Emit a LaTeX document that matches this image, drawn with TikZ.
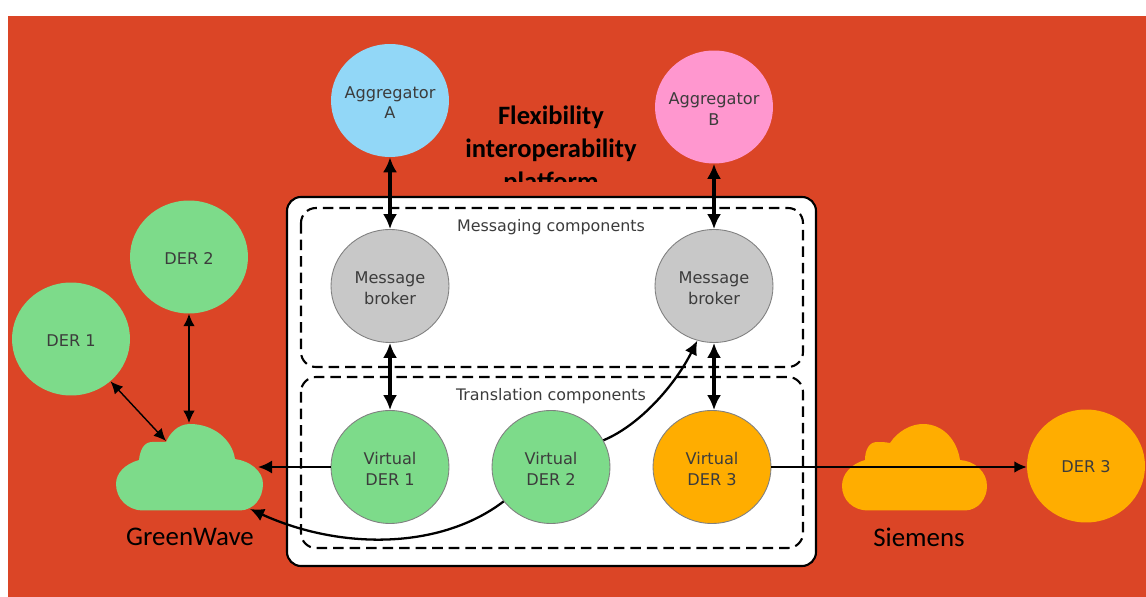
\documentclass[tikz,border=0pt]{standalone}
\usepackage{fontspec}
\setmainfont{DejaVu Sans}
\newfontfamily\calfont{Carlito}
\usetikzlibrary{shapes.geometric, arrows.meta}
\definecolor{bgred}{HTML}{DB4526}
\definecolor{dergreen}{HTML}{7DDB8A}
\definecolor{derorange}{HTML}{FFAD00}
\definecolor{aggblue}{HTML}{92D7F7}
\definecolor{aggpink}{HTML}{FF97CF}
\definecolor{brokergray}{HTML}{C8C8C8}
\definecolor{labelgray}{HTML}{3C3C3C}
\newcommand{\lowtext}{\rule{0pt}{9pt}}
\tikzset{
  blob/.style={ellipse, minimum width=2.36cm, minimum height=2.26cm, inner sep=-4pt, align=center,
    text=labelgray, font=\fontsize{9.2}{11.8}\selectfont},
  inner/.style={blob, draw=gray, line width=.5pt},
  thickarrow/.style={<->, >={Latex[length=8.5pt,width=8pt]}, line width=1.9pt},
  thinarrow/.style={<->, >={Latex[length=7pt,width=6.5pt]}, line width=.8pt},
  midarrow/.style={->, >={Latex[length=8pt,width=7.5pt]}, line width=1.3pt},
  capt/.style={font=\calfont\fontsize{15.3}{18}\selectfont, text=black},
  zone/.style={line width=1.2pt, dash pattern=on 6pt off 3.4pt, rounded corners=.3cm},
  zonelabel/.style={text=labelgray, font=\fontsize{9.05}{11}\selectfont}
}
\begin{document}
\begin{tikzpicture}[>=latex, x=.02cm, y=-.02cm]
\useasboundingbox (0,0) rectangle (1146,597);
\fill[white](0,0) rectangle (1146,597);
\fill[bgred](8,16) rectangle (1146,597);
\begin{scope}
\clip (440,90) rectangle (660,182);
\node(title) at (551,150)[align=center, text=black, font=\calfont\bfseries\fontsize{15.1}{18.7}\selectfont]{Flexibility\\interoperability\\platform};
\end{scope}
\draw[fill=white, line width=1.2pt, rounded corners=.28cm](287,197) rectangle (816,566);
\draw[zone](301,208) rectangle (803,367);
\draw[zone](301,377) rectangle (803,548);
\node(msglabel) at (551,227)[zonelabel]{Messaging components};
\node(translabel) at (551,396)[zonelabel]{Translation components};
\node(aggA) at (390,100.5)[blob, fill=aggblue]{\lowtext Aggregator\\A};
\node(aggB) at (714,107)[blob, fill=aggpink]{\lowtext Aggregator\\B};
\node(der1) at (71,339)[blob, fill=dergreen]{\rule{0pt}{8pt}DER 1};
\node(der2) at (189,257)[blob, fill=dergreen]{\rule{0pt}{8pt}DER 2};
\node(der3) at (1086,466)[blob, fill=derorange]{\rule{0pt}{8pt}DER 3};
\node(msgA) at (390,286)[inner, fill=brokergray]{\lowtext Message\\broker};
\node(msgB) at (714,286)[inner, fill=brokergray]{\lowtext Message\\broker};
\node(virt1) at (390,467)[inner, fill=dergreen]{\lowtext Virtual\\DER 1};
\node(virt2) at (551,467)[inner, fill=dergreen]{\lowtext Virtual\\DER 2};
\node(virt3) at (712,467)[inner, fill=derorange]{\lowtext Virtual\\DER 3};
\fill[dergreen](142,510.5)--(240,510.5) .. controls (254,510) and (263,498) .. (263,484) .. controls (263,471) and (250,461) .. (235,459)
  .. controls (232,439) and (213,424) .. (190,424) .. controls (178,424) and (170,433) .. (166,442)
  .. controls (160,442) and (156,442) .. (152,442) .. controls (144,442) and (140,450) .. (139,460)
  .. controls (125,464) and (116,473) .. (116,484) .. controls (116,499) and (128,510) .. (142,510.5)--cycle;
\fill[derorange](867,510.5)--(965,510.5) .. controls (979,510) and (987,498) .. (987,486) .. controls (987,472) and (975,461) .. (960,460)
  .. controls (957,440) and (943,424) .. (923,424) .. controls (911,424) and (898,431) .. (890,443)
  .. controls (885,442) and (881,442) .. (877,442) .. controls (869,442) and (865,450) .. (865,460)
  .. controls (851,464) and (842,474) .. (842,486) .. controls (842,500) and (853,510) .. (867,510.5)--cycle;
\node(gwlabel) at (190,537)[capt]{GreenWave};
\node(slabel) at (919,537)[capt]{Siemens};
\coordinate(gwtop) at (189,423);
\coordinate(gwleft) at (166,441);
\coordinate(gwright) at (258,467);
\coordinate(gwlow) at (250,509);
\coordinate(siemensend) at (978,467);
\draw[thickarrow](aggA)--(msgA);
\draw[thickarrow](aggB)--(msgB);
\draw[thickarrow](msgA)--(virt1);
\draw[thickarrow](msgB.south)--(msgB.south|-virt3.north);
\draw[thinarrow](der2)--(gwtop);
\draw[thinarrow](der1.-47)--(gwleft);
\draw[midarrow](virt1)--(gwright);
\draw[midarrow](virt2.27) .. controls (640,425) and (675,385) .. (msgB.-107);
\draw[midarrow](virt2.-144) .. controls (440,550) and (340,550) .. (gwlow);
\draw[->, >={Latex[length=7pt,width=6.5pt]}, line width=.8pt](virt3.east)--(virt3.east-|der3.west);
\draw[line width=1.3pt](virt3.east)--(siemensend);
\end{tikzpicture}
\end{document}
